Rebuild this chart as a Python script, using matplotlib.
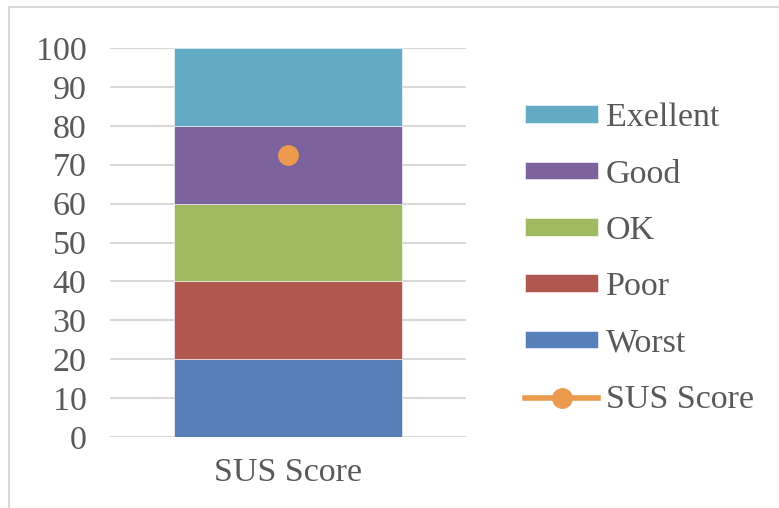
import matplotlib.pyplot as plt
from matplotlib.patches import Rectangle
from matplotlib.lines import Line2D
from matplotlib.patches import Patch

# data
category = ['SUS Score']
bands = ['Worst', 'Poor', 'OK', 'Good', 'Exellent']
band_values = [20, 20, 20, 20, 20]
band_colors = ['#5880B8', '#B05850', '#A0BA62', '#7D639E', '#63AAC5']
sus_score = [72.5]
score_color = '#EB9A4E'

plt.rcParams['font.family'] = ['Liberation Serif', 'DejaVu Serif']
txt = '#595959'
fs = 24.5

fig = plt.figure(figsize=(7.79, 5.08), dpi=100)
ax = fig.add_axes([110/779, (508-437)/508, (466-110)/779, (437-48)/508])

bottom = 0
for name, val, col in zip(bands, band_values, band_colors):
    ax.bar(category, [val], bottom=bottom, width=0.64, color=col,
           edgecolor='white', linewidth=0.4, zorder=2, label=name)
    bottom += val

ax.plot(category, sus_score, color=score_color, marker='o', markersize=14,
        linewidth=4, zorder=3)

ax.set_xlim(-0.5, 0.5)
ax.set_ylim(0, 100)
ax.set_yticks(range(0, 101, 10))
ax.grid(axis='y', color='#D9D9D9', linewidth=1.5, zorder=0)
ax.set_axisbelow(True)
for s in ax.spines.values():
    s.set_visible(False)
ax.tick_params(length=0, labelsize=fs, colors=txt)
ax.tick_params(axis='y', pad=17)
ax.tick_params(axis='x', pad=15)

# legend, top to bottom
handles = [Patch(facecolor=c, edgecolor='white', linewidth=0.4) for c in band_colors[::-1]]
handles.append(Line2D([], [], color=score_color, marker='o', markersize=14, linewidth=4))
labels = bands[::-1] + ['SUS Score']
leg = fig.legend(handles, labels, loc='center left', bbox_to_anchor=(525/779, (508-259)/508),
                 frameon=False, fontsize=fs, handlelength=2.15, handleheight=0.42,
                 handletextpad=0.22, labelspacing=0.76, borderaxespad=0, borderpad=0)
for t in leg.get_texts():
    t.set_color(txt)

# chart border
fig.add_artist(Rectangle((9/779, -0.1), 2, (508-7)/508 + 0.1, transform=fig.transFigure,
                         fill=False, edgecolor='#D9D9D9', linewidth=1.5))

fig.savefig('out.png', dpi=100)
